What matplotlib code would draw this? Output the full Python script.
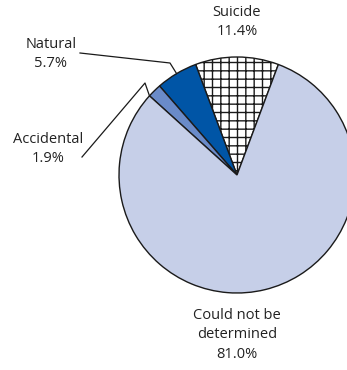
import numpy as np
import matplotlib.pyplot as plt

plt.rcParams['font.family'] = ['Open Sans', 'DejaVu Sans']

# data (slice order counterclockwise from the right edge of "Suicide")
labels = ["Suicide", "Natural", "Accidental", "Could not be\ndetermined"]
shares = [11.4, 5.7, 1.9, 81.0]
colors = ["white", "#0055a6", "#6a8bc9", "#c6cfe8"]
hatches = ["++", None, None, None]

W, H = 347, 370
fig = plt.figure(figsize=(W / 100, H / 100), dpi=100)
ax = fig.add_axes([0, 0, 1, 1])

cx, cy, r = 237, H - 175, 118
start = 90 - shares[0] / 100 * 360 / 2
wedges, _ = ax.pie(shares, colors=colors, startangle=start, counterclock=True,
                   center=(cx, cy), radius=r,
                   wedgeprops=dict(edgecolor="#1a1a1a", linewidth=1.0))
for w, h in zip(wedges, hatches):
    if h:
        w.set_hatch(h)

ax.set_xlim(0, W)
ax.set_ylim(0, H)
ax.set_aspect("auto")
ax.axis("off")

def arc_point(w, frac):
    a = np.deg2rad(w.theta1 + (w.theta2 - w.theta1) * frac)
    return cx + r * np.cos(a), cy + r * np.sin(a)

fs = 10.5
txt = dict(ha="center", va="center", fontsize=fs, color="#222222", linespacing=1.45)

ax.text(237, H - 22, f"{labels[0]}\n{shares[0]:.1f}%", **txt)
ax.text(51, H - 54, f"{labels[1]}\n{shares[1]:.1f}%", **txt)
ax.text(48, H - 149, f"{labels[2]}\n{shares[2]:.1f}%", **txt)
ax.text(237, H - 335, f"{labels[3]}\n{shares[3]:.1f}%", **txt)

# leader lines
px, py = arc_point(wedges[1], 0.5)
ax.plot([80, 170, px], [H - 53, H - 63, py], color="#1a1a1a", lw=0.9)
px, py = arc_point(wedges[2], 1.0)
ax.plot([82, 145, px], [H - 157, H - 83, py], color="#1a1a1a", lw=0.9)

fig.savefig("out.png", dpi=100)
